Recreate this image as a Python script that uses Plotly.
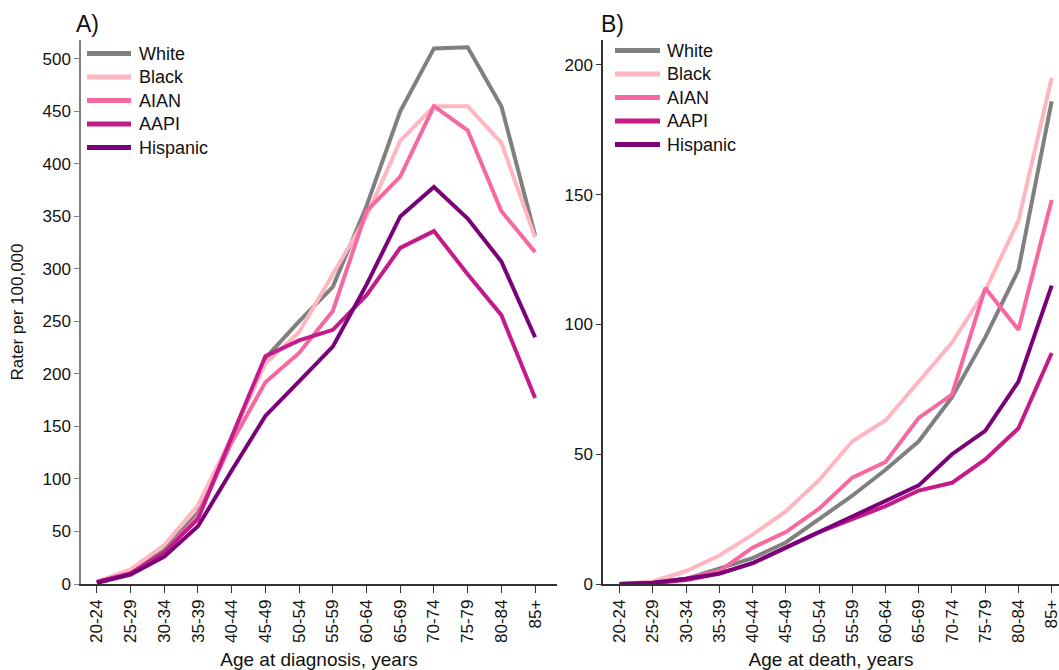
import plotly.graph_objects as go

ages = ["20-24", "25-29", "30-34", "35-39", "40-44", "45-49", "50-54",
        "55-59", "60-64", "65-69", "70-74", "75-79", "80-84", "85+"]
groups = ["White", "Black", "AIAN", "AAPI", "Hispanic"]
colors = ["#808080", "#ffb6c1", "#f768a1", "#c51b8a", "#7a0177"]

# Panel A: incidence rate per 100,000 by age at diagnosis
inc_white = [2, 12, 32, 68, 140, 215, 250, 283, 360, 450, 510, 511, 455, 332]
inc_black = [2, 14, 37, 75, 140, 210, 240, 295, 350, 422, 455, 455, 420, 330]
inc_aian = [2, 10, 30, 65, 135, 192, 220, 260, 355, 388, 455, 432, 355, 316]
inc_aapi = [2, 10, 30, 62, 140, 217, 232, 242, 275, 320, 336, 295, 256, 177]
inc_hisp = [1, 9, 26, 55, 108, 160, 193, 226, 285, 350, 378, 348, 307, 235]

# Panel B: mortality rate per 100,000 by age at death
mort_white = [0, 0.5, 2, 6, 10, 16, 25, 34, 44, 55, 72, 95, 121, 186]
mort_black = [0, 1, 5, 11, 19, 28, 40, 55, 63, 78, 93, 113, 140, 195]
mort_aian = [0, 0.5, 2, 5, 14, 20, 29, 41, 47, 64, 73, 114, 98, 148]
mort_aapi = [0, 0.3, 1.5, 4, 8, 14, 20, 25, 30, 36, 39, 48, 60, 89]
mort_hisp = [0, 0.5, 2, 4, 8, 14, 20, 26, 32, 38, 50, 59, 78, 115]

inc = [inc_white, inc_black, inc_aian, inc_aapi, inc_hisp]
mort = [mort_white, mort_black, mort_aian, mort_aapi, mort_hisp]

W, H = 1059, 670


def px(x):
    return x / W


def py(y):
    return 1 - y / H


FONT = "Liberation Sans, Arial, sans-serif"
TXT = "#111"

fig = go.Figure()
for g, c, v in zip(groups, colors, inc):
    fig.add_trace(go.Scatter(x=ages, y=v, mode="lines", name=g, showlegend=False,
                             line=dict(color=c, width=4), xaxis="x", yaxis="y"))
for g, c, v in zip(groups, colors, mort):
    fig.add_trace(go.Scatter(x=ages, y=v, mode="lines", name=g, showlegend=False,
                             line=dict(color=c, width=4), xaxis="x2", yaxis="y2"))

tickfont = dict(family=FONT, size=17, color=TXT)
xcommon = dict(type="category", showgrid=False, zeroline=False, showline=True,
               linecolor="#333", linewidth=1.5, ticks="outside", ticklen=7,
               tickcolor="#333", tickangle=-90, tickfont=tickfont, automargin=False)
ycommon = dict(showgrid=False, zeroline=False, showline=True, linewidth=1.5,
               ticks="outside", ticklen=5, tickfont=tickfont, automargin=False)

# Manual legends (one per panel): line sample + label
shapes = []
annotations = []
legend_specs = [
    (87, 131, 137, [53.5, 77, 100.5, 124, 147.5]),
    (615, 660, 665, [50.5, 74, 97.5, 121, 144.5]),
]
for x0, x1, xt, rows in legend_specs:
    for g, c, yy in zip(groups, colors, rows):
        shapes.append(dict(type="line", xref="paper", yref="paper",
                           x0=px(x0), x1=px(x1), y0=py(yy), y1=py(yy),
                           line=dict(color=c, width=5)))
        annotations.append(dict(text=g, x=px(xt), y=py(yy), xref="paper", yref="paper",
                                xanchor="left", yanchor="middle", showarrow=False,
                                font=dict(family=FONT, size=18, color=TXT)))

annotations += [
    dict(text="A)", x=px(74), y=py(24), xref="paper", yref="paper",
         xanchor="left", yanchor="middle", showarrow=False,
         font=dict(family=FONT, size=23, color=TXT)),
    dict(text="B)", x=px(599), y=py(24), xref="paper", yref="paper",
         xanchor="left", yanchor="middle", showarrow=False,
         font=dict(family=FONT, size=23, color=TXT)),
]

fig.update_layout(
    width=W, height=H,
    paper_bgcolor="white", plot_bgcolor="white",
    margin=dict(l=0, r=0, t=0, b=0),
    font=dict(family=FONT, color=TXT),
    showlegend=False,
    xaxis=dict(domain=[px(81), px(557)], range=[-0.47, 13.65],
               title=dict(text="Age at diagnosis, years", font=dict(size=19)),
               anchor="y", **xcommon),
    yaxis=dict(domain=[py(584), py(40)], range=[0, 518],
               tickvals=list(range(0, 501, 50)), linecolor="#808080", tickcolor="#808080",
               title=dict(text="Rater per 100,000", font=dict(size=17)),
               anchor="x", **ycommon),
    xaxis2=dict(domain=[px(603), 1.0], range=[-0.5, 13.22],
                title=dict(text="Age at death, years", font=dict(size=19)),
                anchor="y2", **xcommon),
    yaxis2=dict(domain=[py(584), py(40)], range=[0, 209.6],
                tickvals=list(range(0, 201, 50)), linecolor="#333", tickcolor="#333",
                anchor="x2", **ycommon),
    shapes=shapes,
    annotations=annotations,
)

# Remove the page's default body margin so the figure fills the window exactly.
fig.write_html("out.html",
               config={"displayModeBar": False},
               post_script="document.body.style.margin='0';"
                           "document.body.style.overflow='hidden';")
